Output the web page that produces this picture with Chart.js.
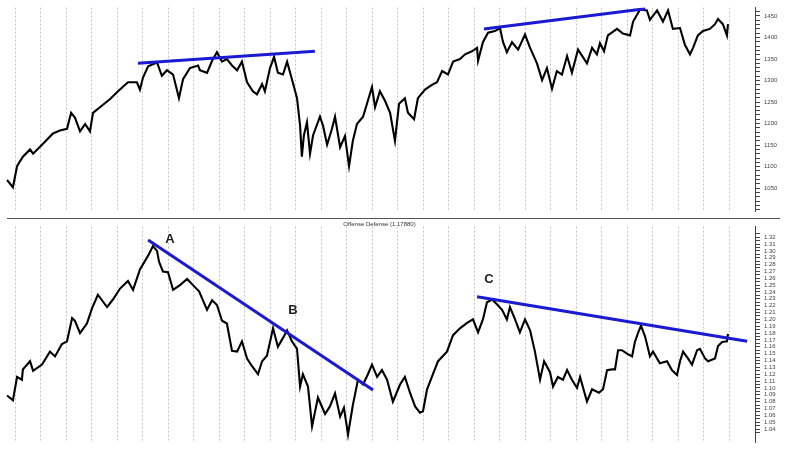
<!DOCTYPE html>
<html>
<head>
<meta charset="utf-8">
<script src="https://cdn.jsdelivr.net/npm/chart.js@4.4.1/dist/chart.umd.min.js"></script>
<style>
  body { margin: 0; background: #fff; }
  #wrap { position: relative; width: 800px; height: 450px; overflow: hidden; }
  #top { position: absolute; left: 0; top: 0; }
  #bottom { position: absolute; left: 0; top: 219px; }
  #sep { position: absolute; left: 7px; top: 218px; width: 773px; height: 1px; background: #555; }
</style>
</head>
<body>
<div id="wrap">
  <canvas id="top" width="800" height="219"></canvas>
  <canvas id="bottom" width="800" height="231"></canvas>
  <div id="sep"></div>
</div>
<script>
// x values are months from the first gridline
var priceMonths = [-0.31, -0.08, 0.08, 0.31, 0.59, 0.71, 1.06, 1.49, 1.76, 2.04, 2.20, 2.35, 2.55, 2.75, 2.94,
  3.06, 3.33, 3.73, 4.04, 4.43, 4.78, 4.90, 5.02, 5.22, 5.57, 5.76, 5.96, 6.20, 6.43, 6.59, 6.86, 7.18,
  7.25, 7.53, 7.73, 7.92, 8.12, 8.31, 8.51, 8.71, 8.90, 9.10, 9.33, 9.49, 9.69, 9.80, 10.00, 10.16, 10.31,
  10.51, 10.67, 10.86, 11.06, 11.18, 11.25, 11.33, 11.45, 11.57, 11.69, 11.96, 12.08, 12.24, 12.43, 12.55,
  12.75, 12.94, 13.10, 13.25, 13.41, 13.65, 14.00, 14.12, 14.31, 14.51, 14.71, 14.90, 15.06, 15.29, 15.41,
  15.65, 15.80, 16.08, 16.35, 16.55, 16.75, 16.98, 17.18, 17.45, 17.65, 17.92, 18.12, 18.16, 18.35, 18.55,
  18.82, 19.02, 19.14, 19.29, 19.49, 19.73, 20.00, 20.20, 20.47, 20.67, 20.86, 21.06, 21.25, 21.45, 21.65,
  21.84, 22.08, 22.43, 22.63, 22.82, 22.94, 23.10, 23.25, 23.61, 23.84, 24.12, 24.24, 24.51, 24.78, 24.90,
  25.18, 25.41, 25.61, 25.80, 26.08, 26.27, 26.47, 26.59, 26.78, 26.98, 27.25, 27.45, 27.57, 27.76, 27.92, 27.96];
var priceValues = [1069, 1052, 1101, 1123, 1140, 1130, 1151, 1177, 1184, 1188, 1225, 1214, 1182, 1199, 1182,
  1225, 1238, 1257, 1275, 1296, 1296, 1279, 1307, 1333, 1342, 1311, 1324, 1314, 1259, 1303, 1329, 1335,
  1324, 1318, 1346, 1366, 1344, 1350, 1335, 1324, 1344, 1296, 1275, 1268, 1292, 1275, 1329, 1355, 1318,
  1314, 1344, 1303, 1259, 1195, 1123, 1173, 1203, 1130, 1173, 1216, 1195, 1151, 1188, 1216,
  1145, 1171, 1101, 1160, 1199, 1216, 1285, 1238, 1275, 1253, 1225, 1160, 1246, 1259, 1225,
  1210, 1259, 1279, 1290, 1296, 1322, 1314, 1344, 1350, 1361, 1368, 1376, 1346, 1389, 1411,
  1415, 1422, 1389, 1366, 1389, 1372, 1407, 1376, 1340, 1301, 1329, 1281, 1322, 1314, 1357,
  1318, 1372, 1340, 1376, 1361, 1387, 1368, 1405, 1420, 1409, 1405, 1437, 1465, 1463, 1441,
  1463, 1437, 1463, 1420, 1422, 1383, 1361, 1376, 1405, 1415, 1420, 1431, 1443, 1431, 1405, 1431];

var ratioMonths = [-0.31, -0.08, 0.08, 0.27, 0.31, 0.59, 0.71, 1.06, 1.37, 1.57, 1.84, 2.04, 2.24, 2.35, 2.55,
  2.82, 3.02, 3.25, 3.61, 3.84, 4.12, 4.43, 4.63, 4.90, 5.22, 5.41, 5.57, 5.65, 5.80, 6.00, 6.20, 6.47,
  6.75, 6.98, 7.22, 7.53, 7.73, 7.92, 8.12, 8.31, 8.51, 8.71, 8.90, 9.10, 9.29, 9.53, 9.69, 9.88, 10.12,
  10.31, 10.51, 10.67, 10.86, 11.06, 11.18, 11.29, 11.49, 11.65, 11.88, 12.16, 12.35, 12.55, 12.75, 12.90,
  13.06, 13.25, 13.45, 13.65, 13.84, 14.00, 14.20, 14.39, 14.59, 14.82, 15.10, 15.29, 15.49, 15.69, 15.88,
  16.00, 16.16, 16.39, 16.59, 16.94, 17.18, 17.45, 17.73, 17.96, 18.16, 18.35, 18.51, 18.71, 18.90, 19.10,
  19.29, 19.41, 19.61, 19.80, 20.00, 20.20, 20.39, 20.59, 20.75, 20.98, 21.10, 21.29, 21.49, 21.65, 21.84,
  22.04, 22.16, 22.43, 22.63, 22.90, 23.06, 23.22, 23.41, 23.53, 23.65, 23.80, 24.00, 24.20, 24.31, 24.43,
  24.55, 24.71, 24.90, 25.02, 25.29, 25.57, 25.76, 25.96, 26.08, 26.20, 26.39, 26.55, 26.75, 26.86, 27.06,
  27.18, 27.45, 27.57, 27.73, 27.92, 27.96];
var ratioValues = [1.089, 1.082, 1.116, 1.112, 1.127, 1.139, 1.125, 1.134, 1.153, 1.146, 1.164, 1.168, 1.202, 1.198, 1.180,
  1.194, 1.216, 1.236, 1.218, 1.229, 1.245, 1.256, 1.243, 1.273, 1.293, 1.307, 1.300, 1.284, 1.270, 1.269, 1.243, 1.250,
  1.259, 1.250, 1.241, 1.214, 1.228, 1.221, 1.198, 1.194, 1.154, 1.153, 1.168, 1.143, 1.132, 1.120, 1.139, 1.147, 1.187,
  1.160, 1.173, 1.184, 1.168, 1.157, 1.102, 1.120, 1.102, 1.044, 1.086, 1.062, 1.073, 1.092, 1.058, 1.071,
  1.032, 1.075, 1.112, 1.105, 1.120, 1.134, 1.116, 1.126, 1.112, 1.080, 1.105, 1.116, 1.093, 1.073, 1.064,
  1.066, 1.098, 1.120, 1.139, 1.153, 1.177, 1.187, 1.195, 1.200, 1.181, 1.200, 1.225, 1.229, 1.222, 1.214,
  1.200, 1.218, 1.200, 1.181, 1.200, 1.184, 1.153, 1.112, 1.139, 1.123, 1.102, 1.116, 1.112, 1.126, 1.112,
  1.100, 1.116, 1.080, 1.098, 1.093, 1.098, 1.126, 1.127, 1.127, 1.155, 1.155, 1.150, 1.146, 1.167, 1.180,
  1.191, 1.175, 1.146, 1.153, 1.136, 1.139, 1.126, 1.119, 1.139, 1.153, 1.143, 1.134, 1.155, 1.157, 1.143,
  1.139, 1.143, 1.161, 1.167, 1.168, 1.179];

// hand-drawn trendlines (start, end)
var priceTrendMonths = [[4.82, 11.76], [18.39, 24.71]];
var priceTrendValues = [[1340, 1368], [1420, 1467]];
var ratioTrendMonths = [[5.22, 14.04], [18.12, 28.71]];
var ratioTrendValues = [[1.316, 1.097], [1.233, 1.168]];

var markerNames = ["A", "B", "C"];
var markerMonths = [6.08, 10.90, 18.59];
var markerValues = [1.316, 1.213, 1.259];

var ratioTitle = "Offense Defense (1.17880)";
var firstMonth = 0, lastMonth = 28;
var priceTickLabels = [1050, 1100, 1150, 1200, 1250, 1300, 1350, 1400, 1450];
var ratioTickLabels = [1.04, 1.05, 1.06, 1.07, 1.08, 1.09, 1.10, 1.11, 1.12, 1.13, 1.14, 1.15, 1.16, 1.17, 1.18,
  1.19, 1.20, 1.21, 1.22, 1.23, 1.24, 1.25, 1.26, 1.27, 1.28, 1.29, 1.30, 1.31, 1.32];

var BLUE = "#1a1ad2";
var AXIS = "#444";

function points(xs, ys) {
  return xs.map(function (x, i) { return { x: x, y: ys[i] }; });
}

function trendSets(xsList, ysList) {
  return xsList.map(function (xs, i) {
    return { data: points(xs, ysList[i]), borderColor: BLUE, borderWidth: 3, pointRadius: 0 };
  });
}

// dotted month separators, one per month boundary
var monthGrid = {
  id: "monthGrid",
  beforeDatasetsDraw: function (chart) {
    var ctx = chart.ctx, sx = chart.scales.x, area = chart.chartArea;
    ctx.save();
    ctx.strokeStyle = "#c4c4c4";
    ctx.lineWidth = 1;
    ctx.setLineDash([2, 2]);
    for (var m = firstMonth; m <= lastMonth; m++) {
      var px = Math.round(sx.getPixelForValue(m)) + 0.5;
      ctx.beginPath();
      ctx.moveTo(px, area.top);
      ctx.lineTo(px, area.bottom);
      ctx.stroke();
    }
    ctx.restore();
  }
};

function xScale() {
  return {
    type: "linear", min: -0.588, max: 29.02,
    ticks: { display: false },
    afterFit: function (s) { s.height = 0; },
    grid: { display: false },
    border: { display: false }
  };
}

function yScale(min, max, tickValues, labels, decimals) {
  return {
    position: "right", min: min, max: max,
    afterBuildTicks: function (s) { s.ticks = tickValues.map(function (v) { return { value: v }; }); },
    afterFit: function (s) { s.width = 45; },
    ticks: {
      autoSkip: false, color: AXIS, padding: 4,
      font: { size: 6, family: "Liberation Sans" },
      callback: function (v) {
        var hit = labels.some(function (l) { return Math.abs(l - v) < 1e-6; });
        return hit ? v.toFixed(decimals) : "";
      }
    },
    grid: { drawOnChartArea: false, tickLength: 5, color: AXIS },
    border: { display: true, color: AXIS, width: 1 }
  };
}

// minor ticks between the labelled ones
var priceTickValues = [];
for (var v = 1000; v <= 1460; v += 10) priceTickValues.push(v);
var ratioTickValues = [];
ratioTickLabels.forEach(function (l) { ratioTickValues.push(l - 0.005, l); });
ratioTickValues.push(1.325);

var baseOptions = {
  responsive: false,
  animation: false,
  layout: { padding: 0 },
  plugins: { legend: { display: false }, tooltip: { enabled: false } }
};

new Chart(document.getElementById("top"), {
  type: "line",
  data: {
    datasets: trendSets(priceTrendMonths, priceTrendValues).concat([
      { data: points(priceMonths, priceValues), borderColor: "#000", borderWidth: 2.1, pointRadius: 0 }
    ])
  },
  options: Object.assign({}, baseOptions, {
    scales: { x: xScale(), y: yScale(996, 1469.5, priceTickValues, priceTickLabels, 0) }
  }),
  plugins: [monthGrid]
});

var ratioText = {
  id: "ratioText",
  afterDatasetsDraw: function (chart) {
    var ctx = chart.ctx, sx = chart.scales.x, sy = chart.scales.y;
    ctx.save();
    ctx.fillStyle = "#333";
    ctx.font = "6px 'Liberation Sans'";
    ctx.textAlign = "center";
    ctx.textBaseline = "middle";
    ctx.fillText(ratioTitle, (chart.chartArea.left + chart.chartArea.right) / 2 + 2, 5);
    ctx.fillStyle = "#222";
    ctx.font = "bold 13px 'Liberation Sans'";
    markerNames.forEach(function (name, i) {
      ctx.fillText(name, sx.getPixelForValue(markerMonths[i]), sy.getPixelForValue(markerValues[i]));
    });
    ctx.restore();
  }
};

new Chart(document.getElementById("bottom"), {
  type: "line",
  data: {
    datasets: trendSets(ratioTrendMonths, ratioTrendValues).concat([
      { data: points(ratioMonths, ratioValues), borderColor: "#000", borderWidth: 2.1, pointRadius: 0 }
    ])
  },
  options: Object.assign({}, baseOptions, {
    scales: { x: xScale(), y: yScale(1.0205, 1.3354, ratioTickValues, ratioTickLabels, 2) }
  }),
  plugins: [monthGrid, ratioText]
});
</script>
</body>
</html>
